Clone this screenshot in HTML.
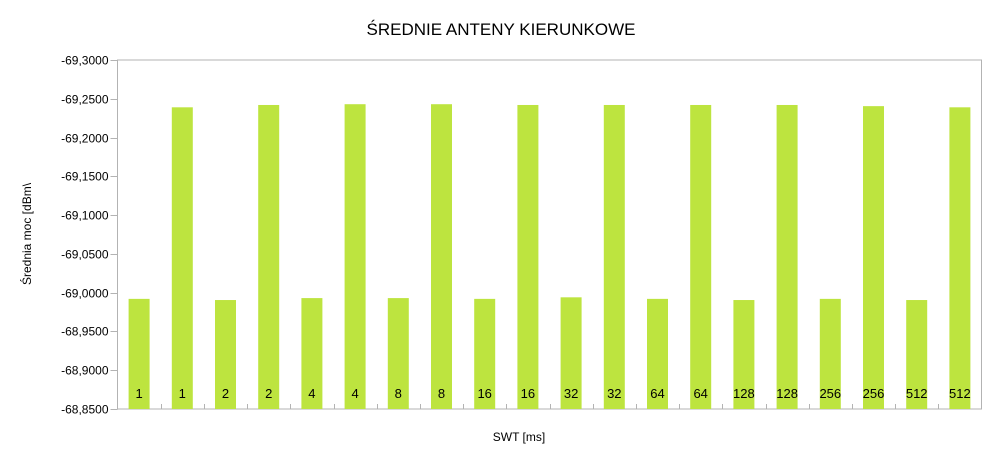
<!DOCTYPE html>
<html><head><meta charset="utf-8"><style>
body{margin:0;background:#fff;font-family:"Liberation Sans",sans-serif}
</style></head><body>
<svg width="1002" height="464" xmlns="http://www.w3.org/2000/svg" style="font-family:'Liberation Sans',sans-serif">
<text x="501" y="35" text-anchor="middle" font-size="17">ŚREDNIE ANTENY KIERUNKOWE</text>
<text x="519" y="441" text-anchor="middle" font-size="12">SWT [ms]</text>
<text transform="translate(31,234) rotate(-90)" text-anchor="middle" font-size="12">Średnia moc [dBm\</text>
<g id="g"></g>
</svg>
<script>
const categories=["1","1","2","2","4","4","8","8","16","16","32","32","64","64","128","128","256","256","512","512"];
const values=[-68.992,-69.239,-68.9905,-69.242,-68.993,-69.243,-68.993,-69.243,-68.992,-69.242,-68.994,-69.242,-68.992,-69.242,-68.9905,-69.242,-68.992,-69.2405,-68.9905,-69.239];
const yTicks=[-69.30,-69.25,-69.20,-69.15,-69.10,-69.05,-69.00,-68.95,-68.90,-68.85];
const NS="http://www.w3.org/2000/svg";
const g=document.getElementById('g');
const L=117.5,R=981.5,T=60,B=409,yMin=-69.3,yMax=-68.85;
const y=v=>T+(v-yMin)/(yMax-yMin)*(B-T);
const slot=(R-L)/categories.length;
const x=i=>L+slot*(i+0.5);
function mk(t,a){const e=document.createElementNS(NS,t);for(const k in a)e.setAttribute(k,a[k]);g.appendChild(e);return e;}
let fr=mk('path',{d:`M${L},${T}H${R}V${B}H${L}Z`,fill:'none',stroke:'#b3b3b3'});


yTicks.forEach(v=>{
 const yy=Math.round(y(v))+0.5;
 let t=mk('line',{x1:L-7,x2:L,y1:yy,y2:yy,stroke:'#b3b3b3'});
 
 
 let tx=mk('text',{x:L-9,y:yy+4,'text-anchor':'end','font-size':12});
 tx.textContent=v.toFixed(4).replace('.',',');
 
 
});
for(let i=1;i<categories.length;i++){
 const xx=Math.round(L+slot*i)+0.5;
 let t=mk('line',{x1:xx,x2:xx,y1:B,y2:B-5,stroke:'#b3b3b3'});
 
 
}
values.forEach((v,i)=>{
 const w=21,yy=y(v);
 let b=mk('rect',{x:x(i)-w/2,y:yy,width:w,height:B-yy,fill:'#bde43f'});
 
 
 let tx=mk('text',{x:x(i),y:398,'text-anchor':'middle','font-size':13});
 tx.textContent=categories[i];
 
 
});
</script>
</body></html>
